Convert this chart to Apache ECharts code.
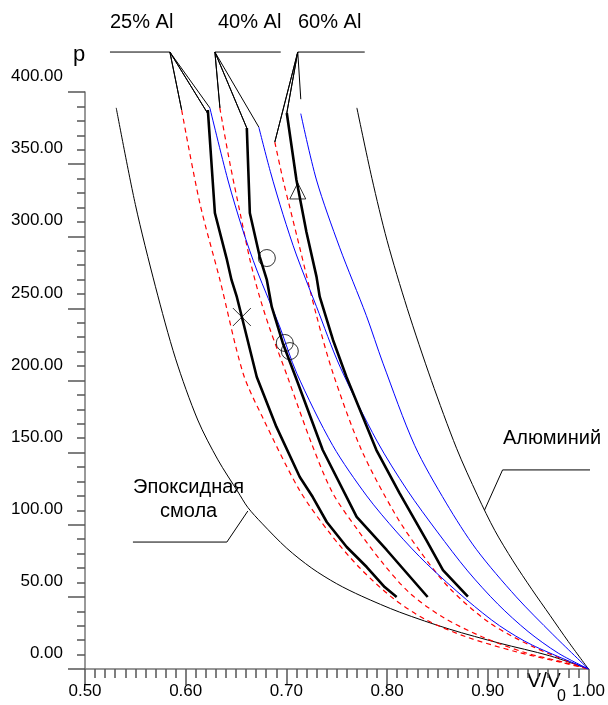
<!DOCTYPE html>
<html>
<head>
<meta charset="utf-8">
<script src="https://cdn.jsdelivr.net/npm/echarts@6/dist/echarts.min.js"></script>
<style>
  html, body { margin: 0; padding: 0; background: #fff; }
  #chart { width: 608px; height: 705px; }
</style>
</head>
<body>
<div id="chart"></div>
<script>
// tick labels
const xTickValues = [0.5, 0.6, 0.7, 0.8, 0.9, 1.0]
const xTickLabels = ['0.50', '0.60', '0.70', '0.80', '0.90', '1.00']
const yTickValues = [0, 50, 100, 150, 200, 250, 300, 350, 400]
const yTickLabels = ['0.00', '50.00', '100.00', '150.00', '200.00', '250.00', '300.00', '350.00', '400.00']

// curves: [V/V0, p]
const epoxy = [[0.531, 389], [0.55, 322], [0.57, 265], [0.59, 215], [0.612, 172.6], [0.632, 145], [0.652, 122.7], [0.6617, 112], [0.6756, 101.1], [0.7004, 83.7], [0.7252, 69.9], [0.75, 59.1], [0.7748, 50.5], [0.8125, 39.4], [0.8621, 27.6], [0.9117, 17.9], [0.9613, 9.2], [1.0, 0]]
const aluminum = [[0.770, 389], [0.785, 340], [0.80, 297], [0.82, 250], [0.844, 200], [0.869, 153], [0.89, 120], [0.907, 96], [0.925, 75], [0.944, 55], [0.962, 37], [0.98, 19], [1.0, 0]]

const red25 = [[0.596, 387.5], [0.614, 323.1], [0.634, 269.7], [0.657, 205], [0.676, 175], [0.713, 124], [0.743, 94.3], [0.773, 70], [0.806, 49], [0.839, 34.0], [0.879, 22.2], [0.929, 11.8], [0.971, 4.9], [1.0, 0]]
const black25 = [[0.622, 387.5], [0.629, 316.1], [0.6406, 284.7], [0.6455, 269.7], [0.6508, 257.9], [0.6558, 244], [0.6706, 202.4], [0.690, 168], [0.7133, 133.1], [0.7262, 119.2], [0.7401, 101.9], [0.7599, 84.6], [0.7798, 70.7], [0.7976, 56.8], [0.8095, 49.9]]
const blue25 = [[0.624, 389], [0.6419, 339], [0.6567, 304.3], [0.6706, 276.6], [0.6935, 237.1], [0.7103, 205], [0.746, 155], [0.7798, 120], [0.8095, 95], [0.8393, 73], [0.879, 48], [0.9117, 30], [0.9444, 16.5], [1.0, 0]]

const red40 = [[0.6339, 389], [0.6438, 351], [0.6538, 317], [0.6637, 284], [0.673, 259], [0.6835, 236], [0.7014, 202], [0.7252, 156], [0.746, 122], [0.7708, 96.4], [0.7956, 73.5], [0.8224, 52.7], [0.8552, 36], [0.8948, 22.2], [0.9385, 11.1], [0.9782, 4.2], [1.0, 0]]
const black40 = [[0.6607, 375], [0.6637, 316.1], [0.6736, 285.6], [0.6806, 269.7], [0.6855, 251], [0.6964, 226], [0.7103, 200.3], [0.7361, 151.8], [0.7698, 105.4], [0.7996, 82.5], [0.8403, 49.9]]
const blue40 = [[0.6726, 375.7], [0.684, 345], [0.6967, 315], [0.71, 287], [0.7299, 251.2], [0.753, 210], [0.79, 158], [0.82, 124], [0.85, 95], [0.88, 68], [0.91, 45], [0.94, 26], [0.97, 11], [1.0, 0]]

const red60 = [[0.6885, 365.3], [0.6967, 339], [0.7034, 320], [0.7133, 292], [0.7299, 245], [0.7463, 205], [0.7745, 152], [0.8075, 108], [0.8323, 82], [0.8621, 56], [0.9018, 32], [0.9448, 15.5], [0.9844, 4.0], [1.0, 0]]
const black60 = [[0.7004, 385.4], [0.71, 339], [0.7199, 303], [0.7299, 272], [0.7331, 258.1], [0.7463, 228.1], [0.7596, 202.6], [0.7894, 151.8], [0.8125, 121.8], [0.839, 89.4], [0.8555, 68.6], [0.8803, 50.1]]
const blue60 = [[0.7143, 385], [0.7299, 339], [0.753, 292], [0.7794, 245], [0.7959, 212], [0.8274, 155], [0.8588, 115], [0.8886, 83], [0.9283, 50], [0.9646, 24], [1.0, 0]]

// measured points
const crossPts = [[0.6558, 244]]
const circlePts = [[0.6806, 284.9], [0.6984, 226], [0.7034, 220.4]]
const trianglePts = [[0.7113, 331.4]]

// leader lines for labels (data coords)
const lead25 = [[0.5248, 427.7], [0.5843, 427.7], [0.596, 387.5], [0.5843, 427.7], [0.622, 385], [0.5843, 427.7], [0.624, 389]]
const lead40 = [[0.6944, 427.7], [0.629, 427.7], [0.634, 389], [0.629, 427.7], [0.6607, 375], [0.629, 427.7], [0.6726, 375.7]]
const lead60 = [[0.7778, 427.7], [0.7113, 427.7], [0.6885, 365.3], [0.7113, 427.7], [0.7004, 385.4], [0.7113, 427.7], [0.7143, 395]]
const leadEpoxy = [[0.5476, 88], [0.6409, 88], [0.6617, 109.5]]
const leadAl = [[1.004, 138], [0.9147, 138], [0.8968, 110.2]]

const FONT = "'Liberation Sans', Arial, sans-serif"

const chart = echarts.init(document.getElementById('chart'))

const curve = (data, color, width, type, smooth) => ({
  type: 'line',
  data,
  showSymbol: false,
  smooth,
  silent: true,
  lineStyle: { color, width, type },
  z: 3
})

const leader = data => ({
  type: 'line',
  data,
  showSymbol: false,
  clip: false,
  silent: true,
  lineStyle: { color: '#000', width: 1 },
  z: 2
})

const marker = (data, symbol, size) => ({
  type: 'scatter',
  data,
  symbol,
  symbolSize: size,
  silent: true,
  itemStyle: { color: 'transparent', borderColor: '#000', borderWidth: 1 },
  z: 5
})

chart.setOption({
  animation: false,
  backgroundColor: '#fff',
  grid: { left: 85, right: 19, top: 92, bottom: 36 },
  xAxis: {
    type: 'value',
    min: 0.5,
    max: 1.0,
    interval: 0.1,
    axisLine: { onZero: false, lineStyle: { color: '#777', width: 1.5 } },
    axisTick: { show: true, length: 16, lineStyle: { color: '#555', width: 1.5 } },
    minorTick: { show: true, splitNumber: 10, length: 9, lineStyle: { color: '#555', width: 1.5 } },
    splitLine: { show: false },
    axisLabel: {
      margin: 14,
      fontSize: 17,
      color: '#000',
      fontFamily: FONT,
      formatter: v => xTickLabels[xTickValues.findIndex(t => Math.abs(t - v) < 1e-6)] || ''
    }
  },
  yAxis: {
    type: 'value',
    min: 0,
    max: 400,
    interval: 50,
    axisLine: { show: true, onZero: false, lineStyle: { color: '#777', width: 1.5 } },
    axisTick: { show: true, length: 17, lineStyle: { color: '#555', width: 1.5 } },
    minorTick: { show: true, splitNumber: 5, length: 8, lineStyle: { color: '#555', width: 1.5 } },
    splitLine: { show: false },
    axisLabel: {
      margin: 22,
      fontSize: 17,
      lineHeight: 17,
      color: '#000',
      fontFamily: FONT,
      verticalAlign: 'bottom',
      padding: [0, 0, 7, 0],
      formatter: v => yTickLabels[yTickValues.indexOf(v)] || ''
    }
  },
  series: [
    curve(epoxy, '#000', 1, 'solid', 0.3),
    curve(aluminum, '#000', 1, 'solid', 0.3),
    curve(red25, '#ff0000', 1.2, [5, 4], 0.3),
    curve(red40, '#ff0000', 1.2, [5, 4], 0.3),
    curve(red60, '#ff0000', 1.2, [5, 4], 0.3),
    curve(blue25, '#0000ff', 1, 'solid', 0.3),
    curve(blue40, '#0000ff', 1, 'solid', 0.3),
    curve(blue60, '#0000ff', 1, 'solid', 0.3),
    curve(black25, '#000', 2.6, 'solid', false),
    curve(black40, '#000', 2.6, 'solid', false),
    curve(black60, '#000', 2.6, 'solid', false),
    leader(lead25),
    leader(lead40),
    leader(lead60),
    leader(leadEpoxy),
    leader(leadAl),
    marker(crossPts, 'path://M0,0L10,10M10,0L0,10', 18),
    marker(circlePts, 'circle', 17),
    marker(trianglePts, 'triangle', 16)
  ],
  graphic: [
    { type: 'text', left: 110, top: 12, style: { text: '25% Al', font: '20px ' + FONT, fill: '#000' } },
    { type: 'text', left: 218, top: 12, style: { text: '40% Al', font: '20px ' + FONT, fill: '#000' } },
    { type: 'text', left: 298, top: 12, style: { text: '60% Al', font: '20px ' + FONT, fill: '#000' } },
    { type: 'text', left: 73, top: 44, style: { text: 'p', font: '22px ' + FONT, fill: '#000' } },
    { type: 'text', left: 133, top: 477, style: { text: 'Эпоксидная', font: '20px ' + FONT, fill: '#000' } },
    { type: 'text', left: 160, top: 501, style: { text: 'смола', font: '20px ' + FONT, fill: '#000' } },
    { type: 'text', left: 503, top: 428, style: { text: 'Алюминий', font: '20px ' + FONT, fill: '#000' } },
    { type: 'text', left: 527, top: 671, style: { text: 'V/V', font: '21px ' + FONT, fill: '#000' } },
    { type: 'text', left: 557, top: 689, style: { text: '0', font: '16px ' + FONT, fill: '#000' } }
  ]
})
</script>
</body>
</html>
